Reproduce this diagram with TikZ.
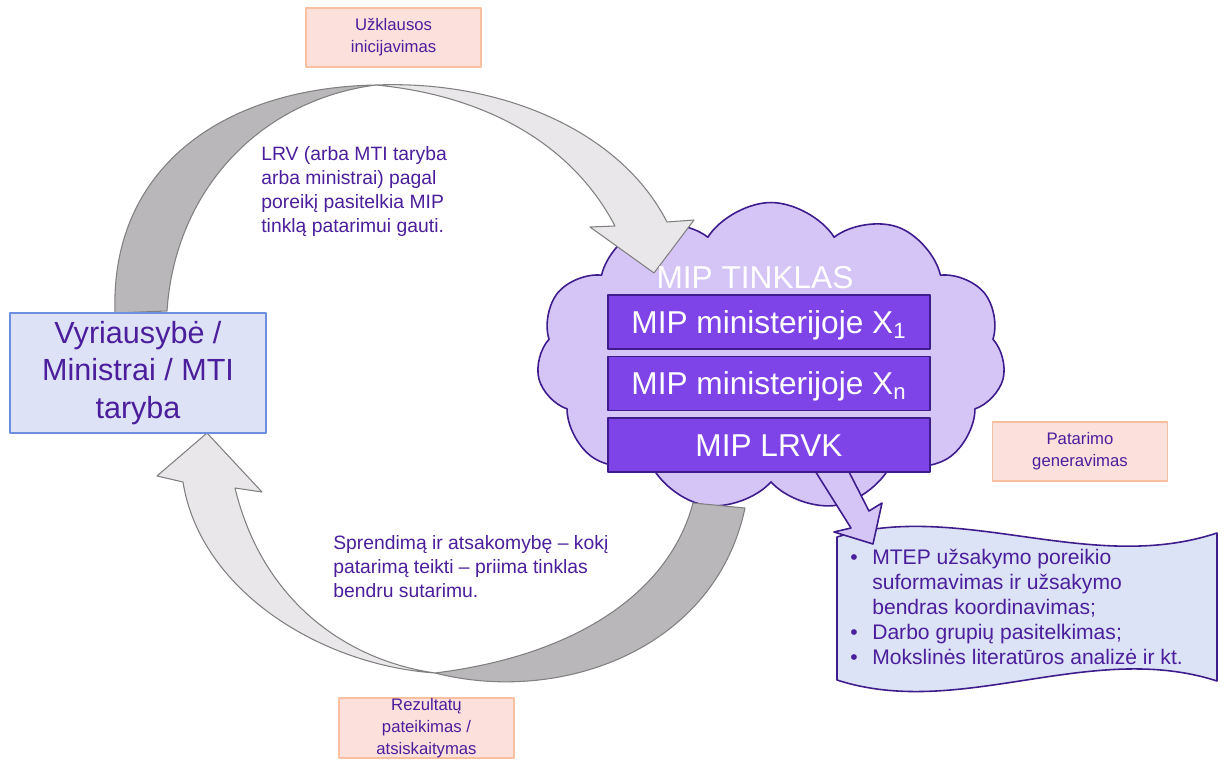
\documentclass[tikz,border=0pt]{standalone}
\usepackage{fontspec}
\setmainfont{Liberation Sans}
\usepackage{xcolor}
\usetikzlibrary{positioning, shapes.symbols, arrows.meta}

\definecolor{txtpurple}{RGB}{75,30,155}
\definecolor{mipfill}{RGB}{127,68,232}
\definecolor{mipline}{RGB}{62,28,140}
\definecolor{cloudfill}{RGB}{213,196,246}
\definecolor{govfill}{RGB}{221,226,247}
\definecolor{govline}{RGB}{110,142,224}
\definecolor{lblfill}{RGB}{252,224,220}
\definecolor{lblline}{RGB}{248,192,160}
\definecolor{darkgrey}{RGB}{185,183,185}
\definecolor{lightgrey}{RGB}{233,231,233}
\definecolor{greyline}{RGB}{128,128,128}
\definecolor{docfill}{RGB}{220,227,246}

\newcommand{\blt}{\makebox[12.5pt][l]{\textbullet}}
\newcommand{\bltgap}{\hspace*{12.5pt}}

\begin{document}
\begin{tikzpicture}[x=0.02cm, y=-0.02cm, line join=round,
	lbl/.style={draw=lblline, fill=lblfill, line width=0.9pt, text=txtpurple, align=center, inner sep=0pt, minimum width=3.5cm, minimum height=1.18cm, font=\fontsize{9.5}{12.5}\selectfont},
	mipbox/.style={draw=mipline, fill=mipfill, line width=0.9pt, text=white, inner sep=0pt, minimum width=6.44cm, minimum height=1.08cm, text height=12.9pt, text depth=0pt, font=\fontsize{18}{21}\selectfont},
	govbox/.style={draw=govline, fill=govfill, line width=0.9pt, text=txtpurple, align=center, inner sep=0pt, minimum width=5.12cm, minimum height=2.4cm, font=\fontsize{17.4}{21.3}\selectfont},
	note/.style={text=txtpurple, align=left, anchor=north west, inner sep=0pt, font=\fontsize{11}{13.6}\selectfont},
	shadeup/.style={draw=greyline, line width=0.6pt, fill=lightgrey},
	shadedown/.style={draw=greyline, line width=0.6pt, fill=darkgrey},
	puffarrow/.style={draw=mipline, line width=0.9pt, fill=cloudfill}]

		\useasboundingbox (0,0) rectangle (1225,760);

		% cloud and document shape %
		\node[cloud, cloud puffs=11, cloud puff arc=115, cloud ignores aspect, draw=mipline, line width=0.9pt, fill=cloudfill, minimum width=9.38cm, minimum height=6.18cm] (net) at (771,357) {};
		\draw[draw=mipline, line width=0.9pt, fill=docfill] (837,537) .. controls (960,500) and (1090,575) .. (1217,533) -- (1217,681) .. controls (1090,640) and (960,720) .. (837,680) -- cycle;

		% grey cycle arrows %
		\draw[shadedown] (115,313) .. controls (110,170) and (220,88) .. (376,85) .. controls (260,100) and (175,190) .. (167,311) -- cycle;
		\draw[shadeup] (376,85) .. controls (500,80) and (620,130) .. (667,222) -- (694,220) -- (654,273) -- (590,227) -- (615,226) .. controls (570,140) and (480,95) .. (376,85) -- cycle;
		\draw[shadeup] (183,482) .. controls (200,590) and (320,665) .. (435,673) .. controls (345,660) and (262,600) .. (235,488) -- (262,492) -- (207,433) -- (157,476) -- cycle;
		\draw[shadedown] (435,673) .. controls (560,705) and (715,650) .. (745,508) -- (693,503) .. controls (670,590) and (580,655) .. (435,673) -- cycle;
		\draw[puffarrow] (812,466) -- (851,528) -- (834,532) -- (873,544) -- (882,503) -- (869,511) -- (846,466) -- cycle;

		% nodes - network boxes %
		\node[mipbox] (mip1) at (769,322) {MIP ministerijoje X\textsubscript{1}};
		\node[mipbox, below=0.12cm of mip1] (mipn) {MIP ministerijoje X\textsubscript{n}};
		\node[mipbox, below=0.12cm of mipn] (lrvk) {MIP LRVK};
		\node[text=white, inner sep=0pt, font=\fontsize{18}{21}\selectfont] (title) at (755,278) {MIP TINKLAS};

		% nodes - government and stage labels %
		\node[govbox] (gov) at (138,373) {Vyriausybė /\\ Ministrai / MTI\\ taryba};
		\node[lbl] (ask) at (393.5,37.5) {Užklausos\\ inicijavimas};
		\node[lbl] (gen) at (1080,451.5) {Patarimo\\ generavimas};
		\node[lbl] (report) at (426.5,728) {Rezultatų\\ pateikimas /\\ atsiskaitymas};

		% nodes - notes %
		\node[note] (use) at (261,146) {LRV (arba MTI taryba\\ arba ministrai) pagal\\ poreikį pasitelkia MIP\\ tinklą patarimui gauti.};
		\node[note] (agree) at (333,535) {Sprendimą ir atsakomybę – kokį\\ patarimą teikti – priima tinklas\\ bendru sutarimu.};
		\node[note, font=\fontsize{12}{14.2}\selectfont] (tasks) at (850,549) {\blt MTEP užsakymo poreikio\\ \bltgap suformavimas ir užsakymo\\ \bltgap bendras koordinavimas;\\ \blt Darbo grupių pasitelkimas;\\ \blt Mokslinės literatūros analizė ir kt.};

\end{tikzpicture}
\end{document}
